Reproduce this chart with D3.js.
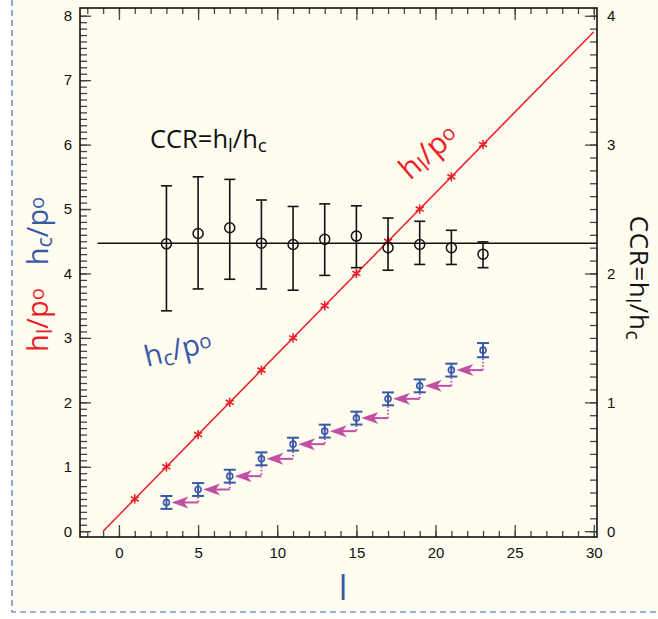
<!DOCTYPE html>
<html>
<head>
<meta charset="utf-8">
<script src="https://cdn.jsdelivr.net/npm/d3@7"></script>
<style>
  body { margin: 0; background: #ffffff; }
  svg { display: block; }
</style>
</head>
<body>
<svg id="chart" width="658" height="619"></svg>
<script>
// ---- data ----
// layer index l for the measured points
const lValues = [3, 5, 7, 9, 11, 13, 15, 17, 19, 21, 23];
// h_l/p_o reference markers and line
const hlStarL = [1, 3, 5, 7, 9, 11, 13, 15, 17, 19, 21, 23];
const hlStarValues = [0.5, 1.0, 1.5, 2.0, 2.5, 3.0, 3.5, 4.0, 4.5, 5.0, 5.5, 6.0];
const hlLineL = [-1, 30];
const hlLineValues = [0, 7.75];
// CCR = h_l/h_c (right axis) with error range
const ccrMean  = [2.23, 2.31, 2.355, 2.235, 2.225, 2.265, 2.29, 2.20, 2.225, 2.20, 2.15];
const ccrUpper = [2.68, 2.75, 2.73, 2.57, 2.52, 2.54, 2.525, 2.43, 2.405, 2.335, 2.245];
const ccrLower = [1.71, 1.88, 1.955, 1.88, 1.87, 1.985, 2.045, 2.025, 2.07, 2.07, 2.045];
const ccrLevel = 2.235;
const ccrLevelL = [-1.35, 30.2];
// h_c/p_o (left axis)
const hcValues = [0.446, 0.647, 0.854, 1.123, 1.351, 1.553, 1.755, 2.054, 2.256, 2.50, 2.81];
const hcErr    = [0.10, 0.10, 0.10, 0.10, 0.10, 0.10, 0.10, 0.10, 0.10, 0.10, 0.11];
// axis ticks
const xTicks = [0, 5, 10, 15, 20, 25, 30];
const xMinorTicks = d3.range(-2, 31, 1);
const yLeftTicks = [0, 1, 2, 3, 4, 5, 6, 7, 8];
const yLeftMinorTicks = d3.range(0, 81, 1).map(v => v / 10);
const yRightTicks = [0, 1, 2, 3, 4];
const yRightMinorTicks = d3.range(0, 41, 1).map(v => v / 10);

// ---- colours ----
const RED = "#ea1f29";
const BLUE = "#3a58a8";
const MAGENTA = "#c24fa6";
const INK = "#111111";
const PAPER = "#fffdf0";

const svg = d3.select("#chart");

// paper and dashed frame
svg.append("rect").attr("x", 12).attr("y", 0).attr("width", 646).attr("height", 612)
  .attr("fill", PAPER);
svg.append("path").attr("d", "M12,0 V612 H658")
  .attr("fill", "none").attr("stroke", "#4a66bd").attr("stroke-width", 1.2)
  .attr("stroke-dasharray", "6,4");

// ---- scales ----
const plotL = 80, plotR = 597, plotT = 8, plotB = 537;
const x = d3.scaleLinear().domain([-2.46, 30.2]).range([plotL, plotR]);
const yL = d3.scaleLinear().domain([-0.09, 8.12]).range([plotB, plotT]);
const yR = d3.scaleLinear().domain([-0.045, 4.06]).range([plotB, plotT]);

const tickFont = "'Liberation Sans', Arial, sans-serif";
const textFont = "'Open Sans', 'Noto Sans', sans-serif";

function styleAxis(g, withLabels) {
  g.select(".domain").remove();
  g.selectAll(".tick line").attr("stroke", "#444").attr("stroke-width", 1.3);
  if (withLabels) {
    g.selectAll(".tick text").attr("font-family", tickFont).attr("font-size", 15).attr("fill", INK);
  }
}

// minor ticks
svg.append("g").attr("transform", `translate(${plotL},0)`)
  .call(d3.axisLeft(yL).tickValues(yLeftMinorTicks).tickSize(-7).tickFormat(""))
  .call(g => styleAxis(g, false));
svg.append("g").attr("transform", `translate(${plotR},0)`)
  .call(d3.axisRight(yR).tickValues(yRightMinorTicks).tickSize(-7).tickFormat(""))
  .call(g => styleAxis(g, false));
svg.append("g").attr("transform", `translate(0,${plotB})`)
  .call(d3.axisBottom(x).tickValues(xMinorTicks).tickSize(-6).tickFormat(""))
  .call(g => styleAxis(g, false));
svg.append("g").attr("transform", `translate(0,${plotT})`)
  .call(d3.axisTop(x).tickValues(xMinorTicks).tickSize(-6).tickFormat(""))
  .call(g => styleAxis(g, false));

// major ticks with labels
svg.append("g").attr("transform", `translate(${plotL},0)`)
  .call(d3.axisLeft(yL).tickValues(yLeftTicks).tickSize(-11).tickPadding(8).tickFormat(d3.format("d")))
  .call(g => styleAxis(g, true));
svg.append("g").attr("transform", `translate(${plotR},0)`)
  .call(d3.axisRight(yR).tickValues(yRightTicks).tickSize(-12).tickPadding(10).tickFormat(d3.format("d")))
  .call(g => styleAxis(g, true));
svg.append("g").attr("transform", `translate(0,${plotB})`)
  .call(d3.axisBottom(x).tickValues(xTicks).tickSize(-12).tickPadding(10).tickFormat(d3.format("d")))
  .call(g => styleAxis(g, true));
svg.append("g").attr("transform", `translate(0,${plotT})`)
  .call(d3.axisTop(x).tickValues(xTicks).tickSize(-12).tickFormat(""))
  .call(g => styleAxis(g, false));

// frame
svg.append("rect").attr("x", plotL).attr("y", plotT)
  .attr("width", plotR - plotL).attr("height", plotB - plotT)
  .attr("fill", "none").attr("stroke", INK).attr("stroke-width", 1.6);

// ---- h_l/p_o line and markers ----
svg.append("path")
  .datum(hlLineL.map((l, i) => [l, hlLineValues[i]]))
  .attr("d", d3.line().x(d => x(d[0])).y(d => yL(d[1])))
  .attr("fill", "none").attr("stroke", RED).attr("stroke-width", 1.5);
svg.append("g").selectAll("path")
  .data(hlStarL.map((l, i) => [l, hlStarValues[i]]))
  .join("path")
  .attr("transform", d => `translate(${x(d[0])},${yL(d[1])})`)
  .attr("d", d3.symbol(d3.symbolAsterisk, 60)())
  .attr("fill", "none").attr("stroke", RED).attr("stroke-width", 1.6);

// ---- CCR level and points ----
svg.append("line")
  .attr("x1", x(ccrLevelL[0])).attr("x2", x(ccrLevelL[1]))
  .attr("y1", yR(ccrLevel)).attr("y2", yR(ccrLevel))
  .attr("stroke", INK).attr("stroke-width", 1.6);

const ccr = svg.append("g").attr("stroke", INK).attr("fill", "none").attr("stroke-width", 1.6)
  .selectAll("g").data(lValues.map((l, i) => ({ l, m: ccrMean[i], hi: ccrUpper[i], lo: ccrLower[i] })))
  .join("g");
ccr.append("line").attr("x1", d => x(d.l)).attr("x2", d => x(d.l))
  .attr("y1", d => yR(d.hi)).attr("y2", d => yR(d.lo));
ccr.append("line").attr("x1", d => x(d.l) - 5.5).attr("x2", d => x(d.l) + 5.5)
  .attr("y1", d => yR(d.hi)).attr("y2", d => yR(d.hi));
ccr.append("line").attr("x1", d => x(d.l) - 5.5).attr("x2", d => x(d.l) + 5.5)
  .attr("y1", d => yR(d.lo)).attr("y2", d => yR(d.lo));
ccr.append("circle").attr("cx", d => x(d.l)).attr("cy", d => yR(d.m)).attr("r", 5)
  .attr("stroke-width", 1.5);

// ---- step arrows between successive h_c/p_o points ----
const steps = d3.range(lValues.length - 1).map(i => ({
  from: lValues[i + 1], to: lValues[i], level: hcValues[i],
  nextLow: hcValues[i + 1] - hcErr[i + 1]
}));
const arrows = svg.append("g");
arrows.selectAll("line.dot").data(steps).join("line").attr("class", "dot")
  .attr("x1", d => x(d.from)).attr("x2", d => x(d.from))
  .attr("y1", d => yL(d.nextLow) + 1).attr("y2", d => yL(d.level))
  .attr("stroke", MAGENTA).attr("stroke-width", 2).attr("stroke-dasharray", "1.5,2");
arrows.selectAll("line.shaft").data(steps).join("line").attr("class", "shaft")
  .attr("x1", d => x(d.from)).attr("x2", d => x(d.to) + 5 + 12)
  .attr("y1", d => yL(d.level)).attr("y2", d => yL(d.level))
  .attr("stroke", MAGENTA).attr("stroke-width", 2);
arrows.selectAll("path.head").data(steps).join("path").attr("class", "head")
  .attr("transform", d => `translate(${x(d.to) + 5},${yL(d.level)})`)
  .attr("d", "M0,0 L17,-6 L12.5,0 L17,6 Z")
  .attr("fill", MAGENTA);

// ---- h_c/p_o points ----
const hc = svg.append("g").attr("stroke", BLUE).attr("fill", "none").attr("stroke-width", 2)
  .selectAll("g").data(lValues.map((l, i) => ({ l, v: hcValues[i], e: hcErr[i] })))
  .join("g");
hc.append("line").attr("x1", d => x(d.l)).attr("x2", d => x(d.l))
  .attr("y1", d => yL(d.v + d.e)).attr("y2", d => yL(d.v - d.e));
hc.append("line").attr("x1", d => x(d.l) - 6).attr("x2", d => x(d.l) + 6)
  .attr("y1", d => yL(d.v + d.e)).attr("y2", d => yL(d.v + d.e));
hc.append("line").attr("x1", d => x(d.l) - 6).attr("x2", d => x(d.l) + 6)
  .attr("y1", d => yL(d.v - d.e)).attr("y2", d => yL(d.v - d.e));
hc.append("circle").attr("cx", d => x(d.l)).attr("cy", d => yL(d.v)).attr("r", 3)
  .attr("stroke-width", 1.6);

// ---- text with sub/superscripts ----
// parts: [text, kind] where kind is "", "sub" or "sup"
function richText(g, parts, size) {
  const t = g.append("text").attr("font-family", textFont).attr("font-size", size);
  parts.forEach(([s, kind]) => {
    const span = t.append("tspan").text(s);
    if (kind === "sub") span.attr("font-size", size * 0.74).attr("baseline-shift", "-20%");
    if (kind === "sup") span.attr("font-size", size * 0.7).attr("baseline-shift", "20%");
  });
  return t;
}

const hlParts = [["h", ""], ["l", "sub"], ["/p", ""], ["o", "sup"]];
const hcParts = [["h", ""], ["c", "sub"], ["/p", ""], ["o", "sup"]];
const ccrParts = [["CCR=h", ""], ["l", "sub"], ["/h", ""], ["c", "sub"]];

// in-plot labels
richText(svg.append("g").attr("transform", "translate(150,148)"), ccrParts, 25.5).attr("fill", INK);
richText(svg.append("g").attr("transform", "translate(410,181) rotate(-41)"), hlParts, 30).attr("fill", RED);
richText(svg.append("g").attr("transform", "translate(147,367) rotate(-14)"), hcParts, 29).attr("fill", BLUE);

// axis titles
richText(svg.append("g").attr("transform", "translate(48,231) rotate(-90)"), hcParts, 29)
  .attr("fill", BLUE).attr("text-anchor", "middle");
richText(svg.append("g").attr("transform", "translate(48,320) rotate(-90)"), hlParts, 29)
  .attr("fill", RED).attr("text-anchor", "middle");
richText(svg.append("g").attr("transform", "translate(630,278) rotate(90)"), ccrParts, 26)
  .attr("fill", INK).attr("text-anchor", "middle").attr("letter-spacing", 0.6);
svg.append("text").attr("x", 343).attr("y", 600).attr("text-anchor", "middle")
  .attr("font-family", textFont).attr("font-size", 34).attr("fill", BLUE).text("l");
</script>
</body>
</html>
